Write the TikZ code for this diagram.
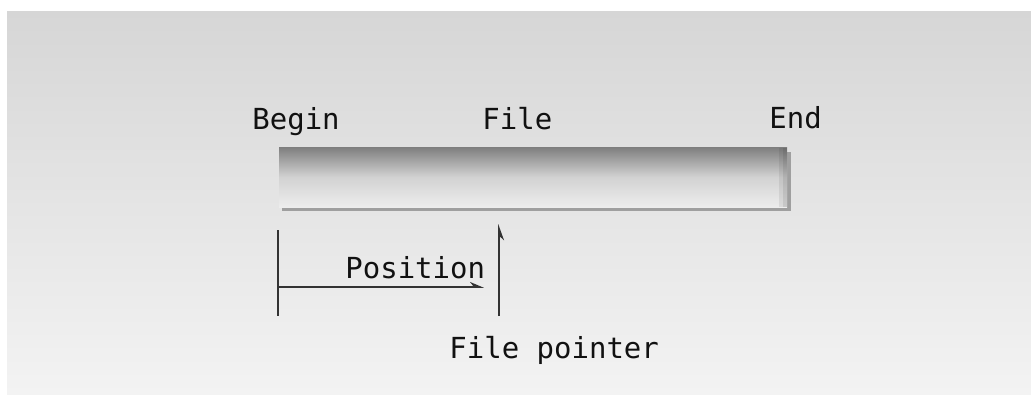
\documentclass[tikz,border=0pt]{standalone}
\usepackage{tikz}
\usetikzlibrary{arrows.meta,positioning}
\usepackage{fontspec}
\setmonofont{DejaVu Sans Mono}
\definecolor{bgtop}{HTML}{D6D6D6}
\definecolor{bgbot}{HTML}{F3F3F3}
\definecolor{bartop}{HTML}{7E7E7E}
\definecolor{barmid}{HTML}{D2D2D2}
\definecolor{barbot}{HTML}{EDEDED}
\definecolor{ink}{HTML}{111111}
\definecolor{rule}{HTML}{333333}

\begin{document}
\begin{tikzpicture}[x=0.5pt,y=-0.5pt,
    lbl/.style={font=\fontsize{14.5}{16}\selectfont\ttfamily,ink,inner sep=0pt,anchor=base west},
    guide/.style={rule,line width=0.8pt}]
  \useasboundingbox (0,0) rectangle (1031,397);
  \fill[white] (0,0) rectangle (1031,397);
  \shade[top color=bgtop,bottom color=bgbot] (7,11) rectangle (1031,394);
  % the file bar
  \fill[gray!75] (282,152) rectangle (791,211);
  \shade[top color=bartop,bottom color=barbot,middle color=barmid] (279,147) rectangle (787,207);
  \fill[black,opacity=0.07] (779,148) rectangle (787,207);
  \fill[black,opacity=0.08] (783,148) rectangle (787,207);
  \node[lbl] (begin) at (252,129) {Begin};
  \node[lbl] (filelbl) at (482,129) {File};
  \node[lbl] (endlbl) at (769,128) {End};
  % position and pointer
  \coordinate (tickTop) at (278,230);
  \coordinate (tickBot) at (278,316);
  \coordinate (posA) at (278,287);
  \coordinate (posB) at (484,287);
  \coordinate (ptrBot) at (499,316);
  \coordinate (ptrTop) at (499,224);
  \draw[guide] (tickTop) -- (tickBot);
  \draw[guide,-{Stealth[harpoon,length=6pt,width=5pt]}] (posA) -- (posB);
  \draw[guide,-{Stealth[harpoon,swap,length=7pt,width=5pt]}] (ptrBot) -- (ptrTop);
  \node[lbl] (position) at (345,278) {Position};
  \node[lbl] (pointerlbl) at (449,358) {File pointer};
\end{tikzpicture}
\end{document}
